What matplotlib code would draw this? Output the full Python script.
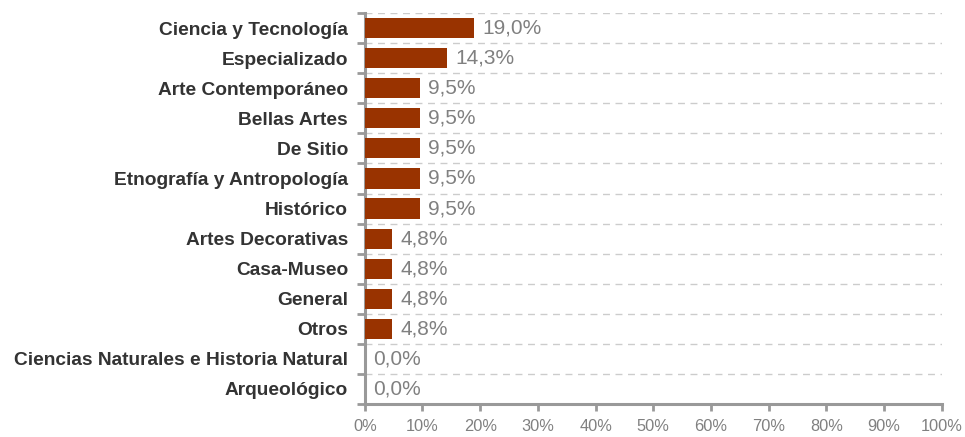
import matplotlib.pyplot as plt
import numpy as np

plt.rcParams['font.family'] = ['Liberation Sans', 'DejaVu Sans']

categorias = ['Ciencia y Tecnología', 'Especializado', 'Arte Contemporáneo',
              'Bellas Artes', 'De Sitio', 'Etnografía y Antropología', 'Histórico',
              'Artes Decorativas', 'Casa-Museo', 'General', 'Otros',
              'Ciencias Naturales e Historia Natural', 'Arqueológico']
valores = [19.0, 14.3, 9.5, 9.5, 9.5, 9.5, 9.5, 4.8, 4.8, 4.8, 4.8, 0.0, 0.0]
xticks = [0, 10, 20, 30, 40, 50, 60, 70, 80, 90, 100]

gris = '#999999'
fig = plt.figure(figsize=(9.65, 4.37), dpi=100)
ax = fig.add_axes([0.378, 0.0755, 0.598, 0.8945])

y = np.arange(len(categorias))
ax.barh(y, valores, height=0.67, color='#993300', zorder=3)
for yi, v in zip(y, valores):
    ax.annotate(f'{v:.1f}%'.replace('.', ','), (v, yi), xytext=(6, 0),
                textcoords='offset points', va='center', ha='left',
                fontsize=15, color='#808080', zorder=4)

ax.set_xlim(0, 100)
ax.set_ylim(len(categorias) - 0.5, -0.5)
ax.set_yticks(y)
ax.set_yticklabels(categorias, fontsize=13.8, fontweight='bold', color='#333333')
ax.set_yticks(np.arange(-0.5, len(categorias)), minor=True)
ax.tick_params(axis='y', which='major', length=0, pad=12)
ax.tick_params(axis='y', which='minor', length=6, width=2, color=gris, direction='out')
ax.set_xticks(xticks)
ax.set_xticklabels([f'{t}%' for t in xticks], fontsize=11.8, color='#808080')
ax.tick_params(axis='x', length=5, width=2, color=gris, pad=6)

ax.grid(axis='y', which='minor', linestyle=(0, (5, 4)), color='#cccccc', linewidth=1, zorder=0)
ax.grid(axis='y', which='major', visible=False)
ax.grid(axis='x', visible=False)

for s in ['top', 'right']:
    ax.spines[s].set_visible(False)
for s in ['left', 'bottom']:
    ax.spines[s].set_color(gris)
    ax.spines[s].set_linewidth(2.2)

fig.savefig('out.png', dpi=100)
